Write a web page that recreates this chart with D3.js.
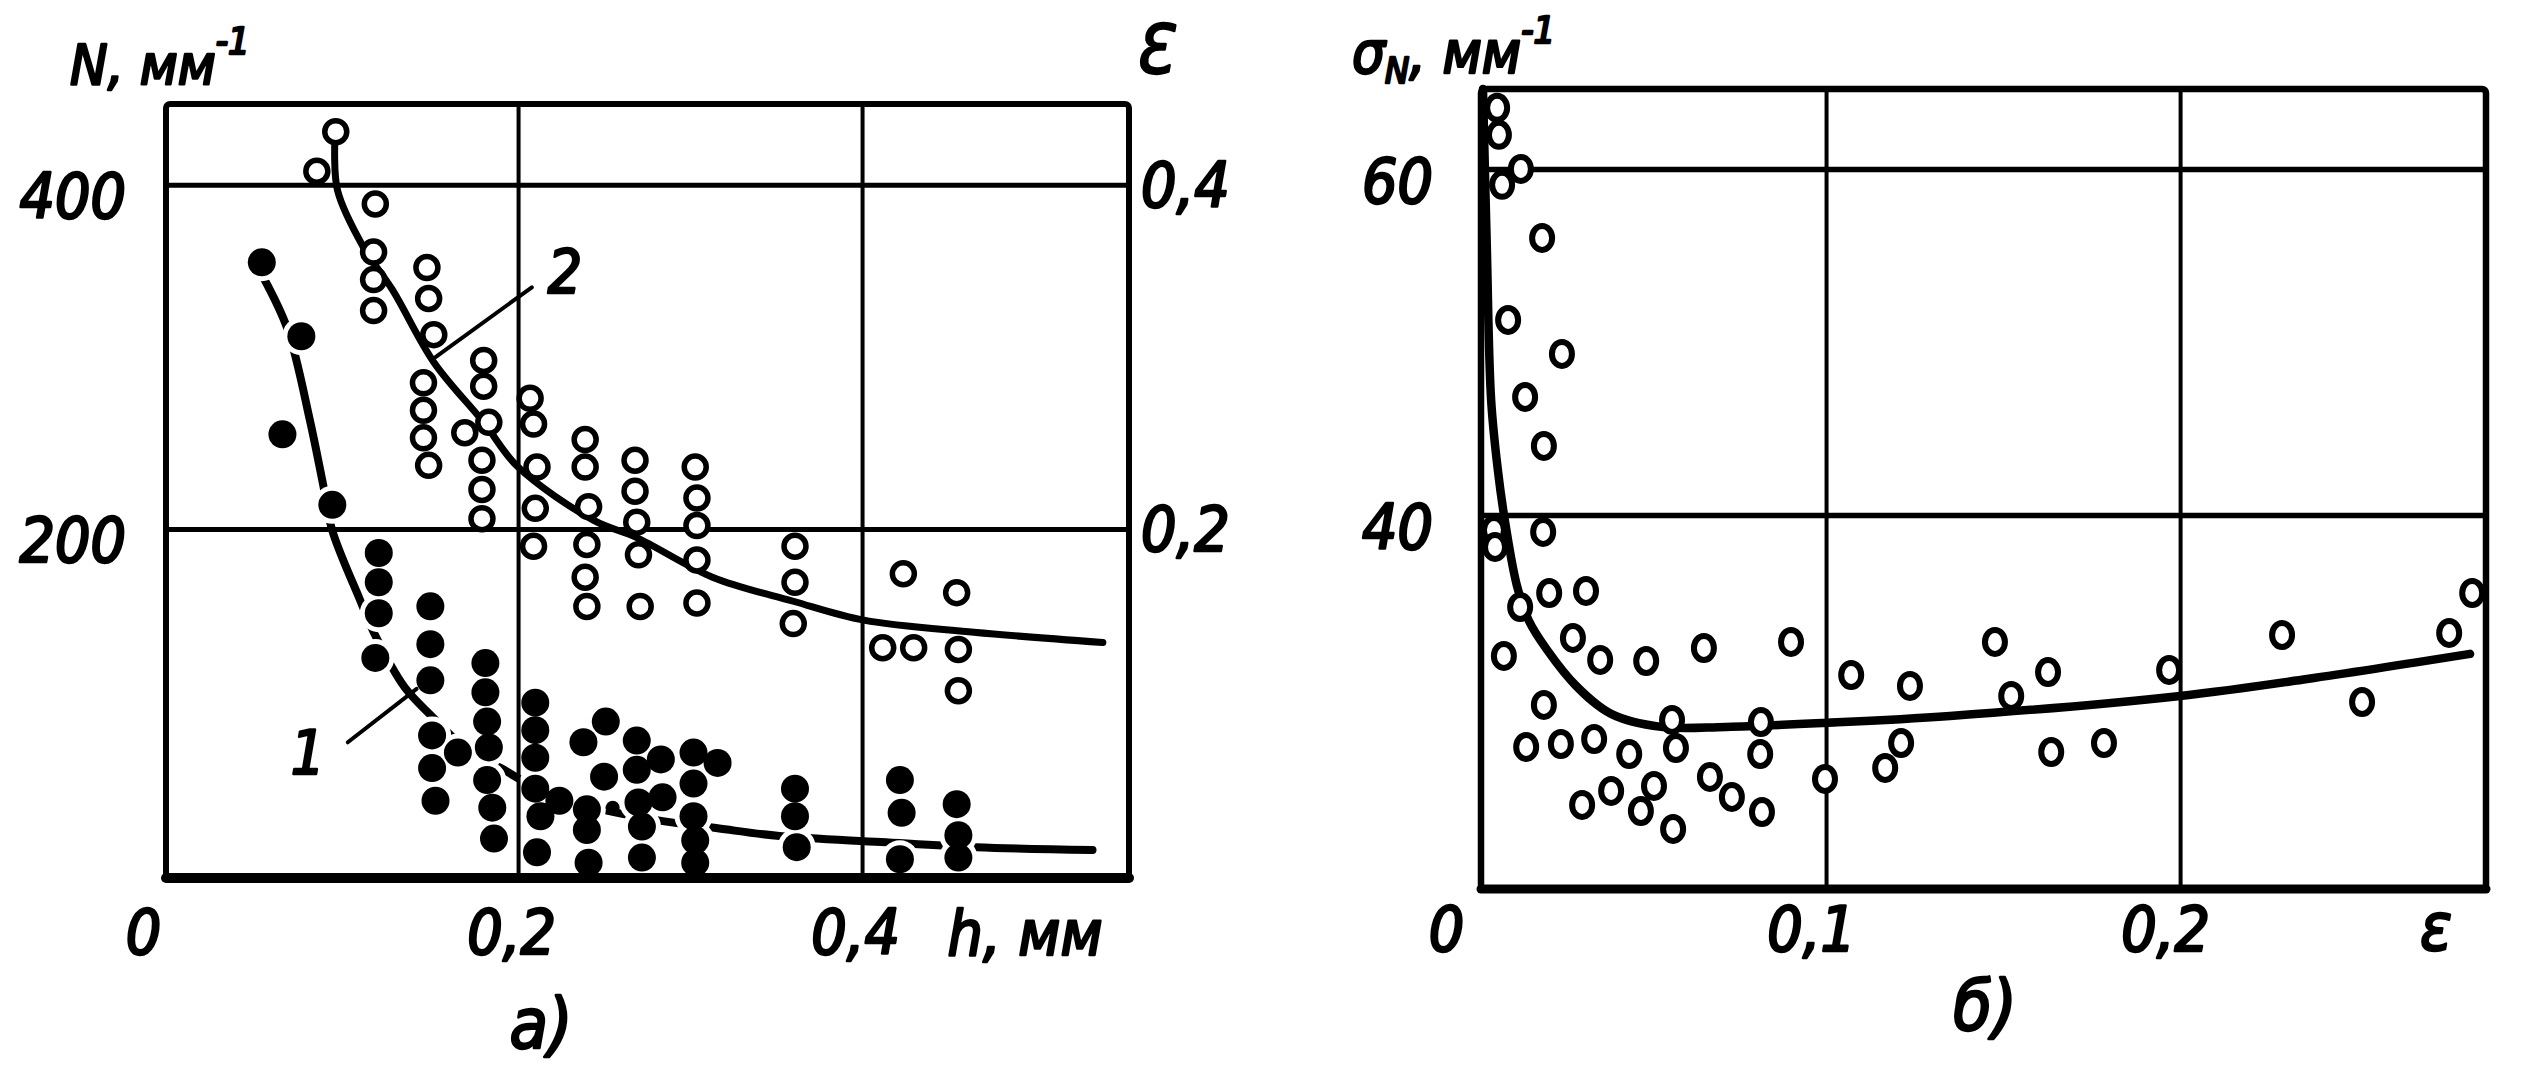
<!DOCTYPE html>
<html><head><meta charset="utf-8">
<script src="https://cdn.jsdelivr.net/npm/d3@7"></script>
<style>
html,body{margin:0;padding:0;background:#fff;}
svg{display:block;background:#fff;}
text{font-family:"DejaVu Sans Condensed","DejaVu Sans",sans-serif;font-style:italic;fill:#000;stroke:#000;stroke-width:2.4px;stroke-linejoin:round;}
</style></head><body>
<svg id="c" width="2527" height="1075"></svg>
<script>
// ---------- chart a) ----------
const xTicksA = [0, 0.2, 0.4];
const xTickLabelsA = ["0", "0,2", "0,4"];
const yTicksA = [200, 400];
const yTickLabelsA = ["200", "400"];
const epsTicksA = [0.2, 0.4];
const epsTickLabelsA = ["0,2", "0,4"];

// series 1 (filled dots): [h, N]
const series1 = [[0.051,355],[0.074,312],[0.063,255],[0.092,214],[0.119,186],[0.119,169],[0.119,151],[0.117,125],
 [0.149,155],[0.149,133],[0.149,112],[0.150,80],[0.150,61],[0.165,70],[0.152,42],[0.181,122],[0.181,105],[0.182,88],
 [0.183,73],[0.182,54],[0.185,38],[0.186,20],[0.210,99],[0.210,83],[0.210,67],[0.210,49],[0.211,12],[0.213,33],
 [0.224,42],[0.238,76],[0.251,88],[0.240,37],[0.240,25],[0.241,6],[0.250,56],[0.269,77],[0.269,60],[0.283,66],
 [0.270,41],[0.272,27],[0.272,9],[0.284,44],[0.302,70],[0.316,64],[0.302,52],[0.302,33],[0.303,19],[0.303,6],
 [0.361,49],[0.361,33],[0.362,15],[0.422,54],[0.423,35],[0.422,8],[0.455,40],[0.456,22],[0.456,9]];
const series1Small = [[0.255,38]];
// series 2 (open circles): [h, eps]
const series2 = [[0.094,0.431],[0.083,0.408],[0.117,0.389],[0.116,0.361],[0.116,0.345],[0.116,0.327],[0.147,0.352],
 [0.148,0.334],[0.151,0.313],[0.180,0.298],[0.180,0.283],[0.145,0.285],[0.145,0.269],[0.145,0.253],[0.148,0.237],
 [0.169,0.256],[0.183,0.262],[0.179,0.240],[0.179,0.223],[0.179,0.206],[0.207,0.276],[0.209,0.261],[0.211,0.236],
 [0.210,0.212],[0.239,0.252],[0.239,0.236],[0.241,0.213],[0.268,0.240],[0.268,0.222],[0.269,0.204],[0.303,0.236],
 [0.304,0.218],[0.304,0.202],[0.209,0.190],[0.240,0.191],[0.239,0.172],[0.240,0.155],[0.270,0.185],[0.271,0.155],
 [0.304,0.182],[0.304,0.157],[0.361,0.190],[0.361,0.169],[0.360,0.145],[0.424,0.174],[0.455,0.163],[0.412,0.131],
 [0.430,0.131],[0.456,0.130],[0.456,0.106]];
// fitted curves
const curve1 = [[0.052,346],[0.066,316],[0.079,263],[0.087,224],[0.092,199],[0.108,159],[0.117,138],[0.134,108],
 [0.150,91],[0.169,73],[0.190,61],[0.213,48],[0.236,40],[0.279,31],[0.316,26],[0.352,21.5],[0.411,18],[0.466,15],[0.534,13.4]];
const curve2 = [[0.0935,0.426],[0.095,0.397],[0.110,0.364],[0.127,0.339],[0.151,0.297],[0.180,0.262],[0.200,0.236],
 [0.244,0.205],[0.269,0.195],[0.313,0.172],[0.360,0.158],[0.401,0.147],[0.465,0.140],[0.540,0.134]];

// ---------- chart б) ----------
const xTicksB = [0, 0.1, 0.2];
const xTickLabelsB = ["0", "0,1", "0,2"];
const yTicksB = [40, 60];
const yTickLabelsB = ["40", "60"];
// [eps, sigma_N]
const pointsB = [[0.0071,63.53],[0.0076,61.97],[0.0138,60.00],[0.0085,59.08],[0.0198,56.01],[0.0102,51.27],[0.0254,49.31],
 [0.0150,46.82],[0.0203,43.99],[0.0201,39.02],[0.0062,39.13],[0.0065,38.15],[0.0218,35.49],[0.0322,35.61],[0.0136,34.68],
 [0.0285,32.89],[0.0362,31.62],[0.0492,31.56],[0.0655,32.31],[0.0901,32.66],[0.0090,31.85],[0.0203,29.02],[0.1071,30.75],
 [0.1237,30.12],[0.0565,28.15],[0.0816,28.03],[0.0153,26.59],[0.0251,26.76],[0.0345,27.05],[0.0444,26.18],[0.0576,26.53],
 [0.0814,26.18],[0.1212,26.82],[0.1167,25.38],[0.0997,24.74],[0.0672,24.86],[0.0734,23.70],[0.0819,22.83],[0.0311,23.24],
 [0.0393,24.05],[0.0514,24.34],[0.0477,22.89],[0.0568,21.85],[0.1477,32.66],[0.1627,30.92],[0.1523,29.54],[0.1969,31.04],
 [0.1636,26.30],[0.1785,26.82],[0.2288,33.06],[0.2514,29.19],[0.2760,33.18],[0.2825,35.49]];
const curveB = [[0.0031,64.62],[0.0042,55.32],[0.0054,46.65],[0.0073,42.60],[0.0093,39.65],[0.0127,35.90],[0.0161,33.87],
 [0.0212,32.20],[0.0294,30.12],[0.0393,28.50],[0.0534,27.75],[0.0718,27.75],[0.1000,27.98],[0.1350,28.38],[0.2000,29.54],
 [0.2359,30.52],[0.2819,31.97]];

const svg = d3.select("#c");
const FS = 62;

function styleText(sel, size){ sel.attr("font-size", size).attr("font-family", null); }

// ===== chart a =====
const xL = d3.scaleLinear().domain([-0.0047, 0.5552]).range([166, 1129]);
const yN = d3.scaleLinear().domain([-2.9, 447]).range([878, 104]);
const yE = d3.scaleLinear().domain([-0.0029, 0.4471]).range([878, 104]);
const gA = svg.append("g");
const [aL, aR] = xL.range(), [aB, aT] = yN.range();

// grid
gA.append("g").attr("transform", `translate(0,${aB})`)
  .call(d3.axisBottom(xL).tickValues(xTicksA.filter(d => d > 0)).tickSize(-(aB - aT)).tickFormat(""))
  .call(g => { g.select(".domain").remove(); g.selectAll("line").attr("stroke", "#000").attr("stroke-width", 4); });
gA.append("g").attr("transform", `translate(${aL},0)`)
  .call(d3.axisLeft(yN).tickValues(yTicksA).tickSize(-(aR - aL)).tickFormat(""))
  .call(g => { g.select(".domain").remove(); g.selectAll("line").attr("stroke", "#000").attr("stroke-width", 5); });
// frame
gA.append("rect").attr("x", aL).attr("y", aT).attr("width", aR - aL).attr("height", aB - aT)
  .attr("fill", "none").attr("stroke", "#000").attr("stroke-width", 6).attr("rx", 4);
gA.append("line").attr("x1", aL).attr("x2", aR).attr("y1", aB).attr("y2", aB).attr("stroke", "#000").attr("stroke-width", 10).attr("stroke-linecap", "round");

// tick labels
gA.append("g").attr("transform", `translate(0,${aB})`)
  .call(d3.axisBottom(xL).tickValues(xTicksA).tickSize(0).tickFormat((d, i) => xTickLabelsA[i]))
  .call(g => { g.select(".domain").remove(); styleText(g, FS); })
  .selectAll("text").attr("y", 76).attr("dy", 0).attr("dx", d => d === 0 ? -31 : -7);
gA.append("g").attr("transform", `translate(${aL},0)`)
  .call(d3.axisLeft(yN).tickValues(yTicksA).tickSize(0).tickFormat((d, i) => yTickLabelsA[i]))
  .call(g => { g.select(".domain").remove(); styleText(g, FS); })
  .selectAll("text").attr("x", -40).attr("dy", 33);
gA.append("g").attr("transform", `translate(${aR},0)`)
  .call(d3.axisRight(yE).tickValues(epsTicksA).tickSize(0).tickFormat((d, i) => epsTickLabelsA[i]))
  .call(g => { g.select(".domain").remove(); styleText(g, FS); })
  .selectAll("text").attr("x", 12).attr("dy", 21);

// axis titles
const tN = gA.append("text").attr("x", 70).attr("y", 84).attr("font-size", 56);
tN.append("tspan").text("N, мм");
tN.append("tspan").attr("dy", -30).attr("font-size", 38).text("-1");
gA.append("text").attr("x", 1134).attr("y", 73).attr("font-size", 68).text("Ɛ");
gA.append("text").attr("x", 1025).attr("y", 955).attr("text-anchor", "middle").attr("font-size", FS).text("h, мм");
gA.append("text").attr("x", 541).attr("y", 1048).attr("text-anchor", "middle").attr("font-size", 70).text("а)");

// curve 2 and open circles
const line2 = d3.line().x(d => xL(d[0])).y(d => yE(d[1])).curve(d3.curveCatmullRom.alpha(0.5));
gA.append("path").datum(curve2).attr("d", line2).attr("fill", "none").attr("stroke", "#000")
  .attr("stroke-width", 7).attr("stroke-linecap", "round");
// leader lines
gA.append("line").attr("x1", xL(0.152)).attr("y1", yE(0.3)).attr("x2", xL(0.208)).attr("y2", yE(0.3405))
  .attr("stroke", "#000").attr("stroke-width", 4).attr("stroke-linecap", "round");
gA.append("text").attr("x", 565).attr("y", 293).attr("text-anchor", "middle").attr("font-size", 60).text("2");
gA.append("g").selectAll("circle").data(series2).join("circle")
  .attr("cx", d => xL(d[0])).attr("cy", d => yE(d[1])).attr("r", 11)
  .attr("fill", "#fff").attr("stroke", "#000").attr("stroke-width", 5.5);

// curve 1 with gaps around dots (mask)
const mask = svg.append("defs").append("mask").attr("id", "m1").attr("maskUnits", "userSpaceOnUse");
mask.append("rect").attr("x", 0).attr("y", 0).attr("width", 2527).attr("height", 1075).attr("fill", "#fff");
mask.selectAll("circle").data(series1).join("circle")
  .attr("cx", d => xL(d[0])).attr("cy", d => yN(d[1])).attr("r", 19).attr("fill", "#000");
const line1 = d3.line().x(d => xL(d[0])).y(d => yN(d[1])).curve(d3.curveCatmullRom.alpha(0.5));
gA.append("path").datum(curve1).attr("d", line1).attr("fill", "none").attr("stroke", "#000")
  .attr("stroke-width", 8).attr("stroke-linecap", "round").attr("mask", "url(#m1)");
gA.append("line").attr("x1", xL(0.101)).attr("y1", yN(76)).attr("x2", xL(0.141)).attr("y2", yN(107))
  .attr("stroke", "#000").attr("stroke-width", 4).attr("stroke-linecap", "round");
gA.append("text").attr("x", 308).attr("y", 774).attr("text-anchor", "middle").attr("font-size", 60).text("1");
gA.append("g").selectAll("circle").data(series1).join("circle")
  .attr("cx", d => xL(d[0])).attr("cy", d => yN(d[1])).attr("r", 14).attr("fill", "#000");
gA.append("g").selectAll("circle").data(series1Small).join("circle")
  .attr("cx", d => xL(d[0])).attr("cy", d => yN(d[1])).attr("r", 7).attr("fill", "#000");

// ===== chart б =====
const xR = d3.scaleLinear().domain([0.00254, 0.2864]).range([1481, 2486]);
const yR = d3.scaleLinear().domain([18.38, 64.62]).range([889, 89]);
const gB = svg.append("g");
const [bL, bR] = xR.range(), [bB, bT] = yR.range();
gB.append("g").attr("transform", `translate(0,${bB})`)
  .call(d3.axisBottom(xR).tickValues(xTicksB.filter(d => d > 0)).tickSize(-(bB - bT)).tickFormat(""))
  .call(g => { g.select(".domain").remove(); g.selectAll("line").attr("stroke", "#000").attr("stroke-width", 4); });
gB.append("g").attr("transform", `translate(${bL},0)`)
  .call(d3.axisLeft(yR).tickValues(yTicksB).tickSize(-(bR - bL)).tickFormat(""))
  .call(g => { g.select(".domain").remove(); g.selectAll("line").attr("stroke", "#000").attr("stroke-width", 5.5); });
gB.append("rect").attr("x", bL).attr("y", bT).attr("width", bR - bL).attr("height", bB - bT)
  .attr("fill", "none").attr("stroke", "#000").attr("stroke-width", 6.5).attr("rx", 4);
gB.append("line").attr("x1", bL).attr("x2", bR).attr("y1", bB).attr("y2", bB).attr("stroke", "#000").attr("stroke-width", 9).attr("stroke-linecap", "round");

gB.append("g").attr("transform", `translate(0,${bB})`)
  .call(d3.axisBottom(xR).tickValues(xTicksB).tickSize(0).tickFormat((d, i) => xTickLabelsB[i]))
  .call(g => { g.select(".domain").remove(); styleText(g, FS); })
  .selectAll("text").attr("y", 62).attr("dy", 0).attr("dx", d => d === 0 ? -26 : -15);
gB.append("g").attr("transform", `translate(${bL},0)`)
  .call(d3.axisLeft(yR).tickValues(yTicksB).tickSize(0).tickFormat((d, i) => yTickLabelsB[i]))
  .call(g => { g.select(".domain").remove(); styleText(g, FS); })
  .selectAll("text").attr("x", -48).attr("dy", 34);

const tS = gB.append("text").attr("x", 1352).attr("y", 73).attr("font-size", 58);
tS.append("tspan").text("σ");
tS.append("tspan").attr("dy", 10).attr("font-size", 36).text("N");
tS.append("tspan").attr("dy", -10).text(", мм");
tS.append("tspan").attr("dy", -30).attr("font-size", 38).text("-1");
gB.append("text").attr("x", 2436).attr("y", 950).attr("text-anchor", "middle").attr("font-size", 66).text("ε");
gB.append("text").attr("x", 1985).attr("y", 1030).attr("text-anchor", "middle").attr("font-size", 70).text("б)");

const lineB = d3.line().x(d => xR(d[0])).y(d => yR(d[1])).curve(d3.curveCatmullRom.alpha(0.5));
gB.append("path").datum(curveB).attr("d", lineB).attr("fill", "none").attr("stroke", "#000")
  .attr("stroke-width", 8.5).attr("stroke-linecap", "round");
gB.append("g").selectAll("ellipse").data(pointsB).join("ellipse")
  .attr("cx", d => xR(d[0])).attr("cy", d => yR(d[1])).attr("rx", 10).attr("ry", 12)
  .attr("fill", "#fff").attr("stroke", "#000").attr("stroke-width", 6);
</script>
</body></html>
